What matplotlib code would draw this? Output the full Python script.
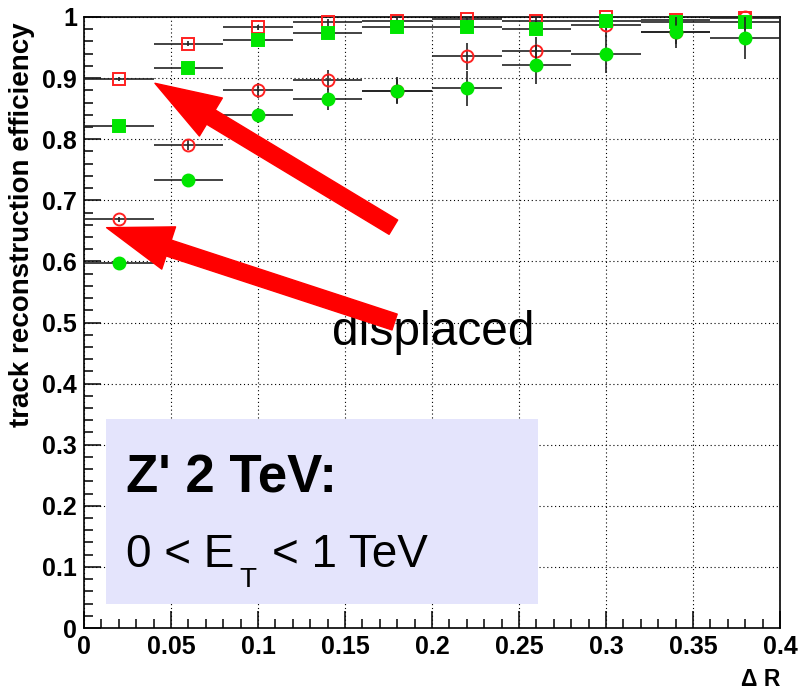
import numpy as np
import matplotlib
matplotlib.use("Agg")
import matplotlib.pyplot as plt
from matplotlib.patches import FancyArrowPatch, Rectangle, ArrowStyle
from matplotlib.ticker import MultipleLocator

plt.rcParams['font.family'] = ['Liberation Sans', 'DejaVu Sans']

# bin centres in Delta R and half bin width
dr = np.array([0.02, 0.06, 0.10, 0.14, 0.18, 0.22, 0.26, 0.30, 0.34, 0.38])
dr_half = 0.02

# efficiencies
red_sq = [0.899, 0.956, 0.983, 0.991, 0.994, 0.997, 0.994, 1.000, 0.995, 0.998]
red_sq_err = [0.003, 0.004, 0.004, 0.005, 0.006, 0.008, 0.008, 0.006, 0.008, 0.006]
green_sq = [0.821, 0.916, 0.962, 0.974, 0.983, 0.983, 0.981, 0.993, 0.992, 0.991]
green_sq_err = [0.003, 0.005, 0.006, 0.007, 0.008, 0.010, 0.012, 0.010, 0.010, 0.012]
red_circ = [0.669, 0.790, 0.880, 0.897, 0.879, 0.936, 0.945, 0.987, 0.975, 1.000]
red_circ_err = [0.004, 0.008, 0.012, 0.017, 0.020, 0.022, 0.023, 0.020, 0.020, 0.012]
green_circ = [0.598, 0.734, 0.839, 0.865, 0.879, 0.883, 0.922, 0.939, 0.975, 0.966]
green_circ_err = [0.004, 0.008, 0.012, 0.017, 0.022, 0.028, 0.032, 0.031, 0.026, 0.035]

x_ticks = [0, 0.05, 0.1, 0.15, 0.2, 0.25, 0.3, 0.35, 0.4]
x_labels = ['0', '0.05', '0.1', '0.15', '0.2', '0.25', '0.3', '0.35', '0.4']
y_ticks = [0, 0.1, 0.2, 0.3, 0.4, 0.5, 0.6, 0.7, 0.8, 0.9, 1.0]
y_labels = ['0', '0.1', '0.2', '0.3', '0.4', '0.5', '0.6', '0.7', '0.8', '0.9', '1']

RED = '#ff2020'
GREEN = '#00e600'

fig = plt.figure(figsize=(8.08, 6.93), dpi=100)
ax = fig.add_axes([84 / 808, 1 - 628 / 693, 696 / 808, 611 / 693])
ax.set_xlim(0, 0.4)
ax.set_ylim(0, 1)

# ROOT-like frame, inward ticks on left/bottom only
for s in ax.spines.values():
    s.set_linewidth(1.2)
ax.set_xticks(x_ticks, x_labels)
ax.set_yticks(y_ticks, y_labels)
ax.xaxis.set_minor_locator(MultipleLocator(0.01))
ax.yaxis.set_minor_locator(MultipleLocator(0.02))
ax.tick_params(which='both', direction='in', top=False, right=False, width=1.1)
ax.tick_params(which='major', length=12, labelsize=18, pad=5)
ax.tick_params(which='minor', length=6.5)
for lab in ax.get_xticklabels() + ax.get_yticklabels():
    lab.set_fontweight('bold')
ax.grid(True, which='major', color='black', linestyle=(0, (1, 2.5)), linewidth=0.8)
ax.set_axisbelow(True)

series = [
    (red_sq, red_sq_err, 's', 'none', RED),
    (red_circ, red_circ_err, 'o', 'none', RED),
    (green_sq, green_sq_err, 's', GREEN, GREEN),
    (green_circ, green_circ_err, 'o', GREEN, GREEN),
]
for i, (y, yerr, mk, fc, ec) in enumerate(series):
    ax.errorbar(dr, y, xerr=dr_half, yerr=yerr, fmt='none', ecolor='#222222',
                elinewidth=1.2, capsize=0, zorder=3 + 2 * i)
    ax.plot(dr, y, linestyle='none', marker=mk, markersize=8.8 if mk == 's' else 8.6,
            markerfacecolor=fc, markeredgecolor=ec, markeredgewidth=1.4,
            zorder=4 + 2 * i, clip_on=False)

# info box
ax.add_patch(Rectangle((0.0126, 0.0393), 0.2483, 0.3027, facecolor='#e4e4fc',
                       edgecolor='none', zorder=1))
ax.text(0.0241, 0.221, "Z' 2 TeV:", fontsize=38, fontweight='bold', va='baseline', zorder=12)
ax.text(0.0241, 0.0998, "0 < E", fontsize=33, va='baseline', zorder=12)
ax.text(0.0893, 0.0671, "T", fontsize=20, va='baseline', zorder=12)
ax.text(0.1079, 0.0998, "< 1 TeV", fontsize=33, va='baseline', zorder=12)

ax.text(0.1424, 0.463, "displaced", fontsize=34.5, va='baseline', zorder=12)

# big red arrows
style = ArrowStyle.Simple(head_length=47, head_width=32, tail_width=12)
for tail, tip in [((0.1778, 0.656), (0.0408, 0.8915)),
                  ((0.1785, 0.5008), (0.0130, 0.6552))]:
    ax.add_patch(FancyArrowPatch(tail, tip, arrowstyle=style, mutation_scale=1,
                                 color='red', shrinkA=0, shrinkB=0, zorder=13))

fig.text(22 / 808, 1 - 22 / 693, "track reconstruction efficiency", rotation=90,
         ha='center', va='top', fontsize=20, fontweight='bold')
fig.text(780 / 808, 1 - 686 / 693, "\u0394 R", ha='right', va='baseline',
         fontsize=16.5, fontweight='bold')

fig.savefig('out.png', dpi=100)
